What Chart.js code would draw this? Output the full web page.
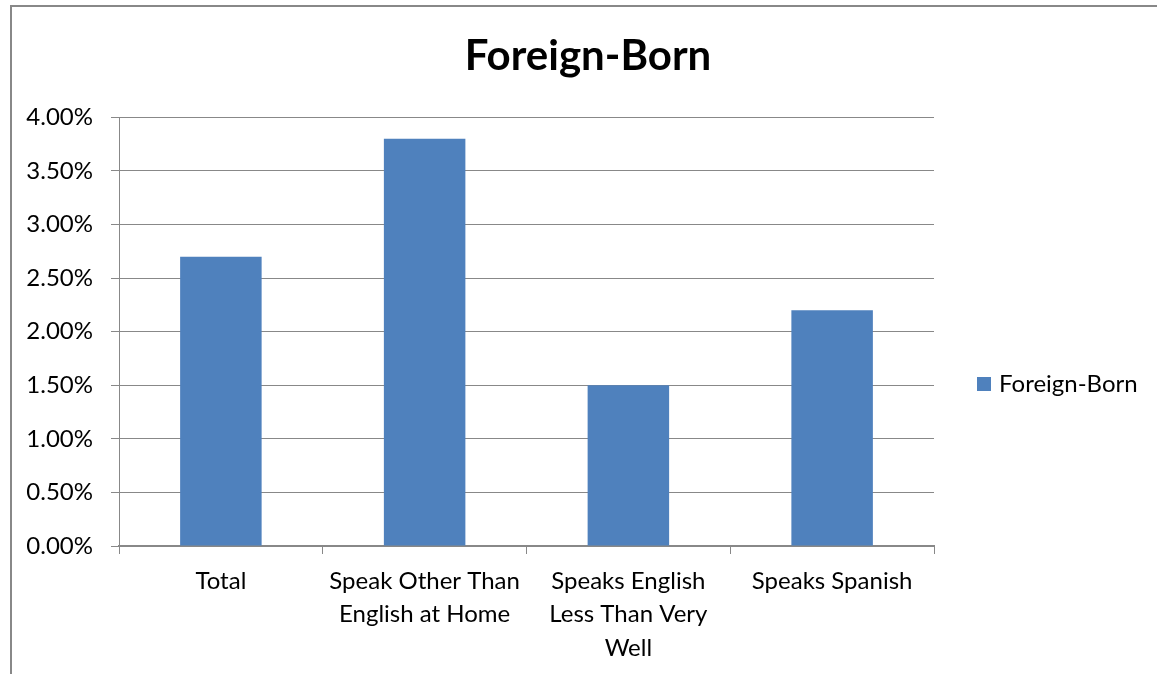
<!DOCTYPE html>
<html>
<head>
<meta charset="utf-8">
<script src="https://cdn.jsdelivr.net/npm/chart.js@4"></script>
<style>
html,body{margin:0;padding:0;background:#fff;}
#wrap{width:1157px;height:674px;position:relative;}
</style>
</head>
<body>
<div id="wrap"><canvas id="c" width="1157" height="674"></canvas></div>
<script>
const categories = [
  ["Total"],
  ["Speak Other Than", "English at Home"],
  ["Speaks English", "Less Than Very", "Well"],
  ["Speaks Spanish"]
];
const seriesName = "Foreign-Born";
const seriesValues = [0.027, 0.038, 0.015, 0.022];
const yTickValues = [0, 0.005, 0.01, 0.015, 0.02, 0.025, 0.03, 0.035, 0.04];

const FONT = "Lato";
const barColor = "#4F81BD";
const gray = "#888888";

const framePlugin = {
  id: "frame",
  beforeDraw(chart) {
    const ctx = chart.ctx;
    ctx.save();
    ctx.fillStyle = "#fff";
    ctx.fillRect(0, 0, chart.width, chart.height);
    ctx.strokeStyle = gray;
    ctx.lineWidth = 2;
    ctx.beginPath();
    ctx.moveTo(11, 674);
    ctx.lineTo(11, 6);
    ctx.lineTo(1157, 6);
    ctx.stroke();
    ctx.restore();
  }
};

const legendPlugin = {
  id: "customLegend",
  afterDraw(chart) {
    const ctx = chart.ctx;
    const area = chart.chartArea;
    ctx.save();
    ctx.fillStyle = barColor;
    const x0 = area.right + 43;
    const yc = 384;
    ctx.fillRect(x0, yc - 7, 14, 14);
    ctx.fillStyle = "#000";
    ctx.font = "24px " + FONT;
    ctx.textBaseline = "middle";
    ctx.textAlign = "left";
    ctx.fillText(seriesName, x0 + 22, yc);
    ctx.restore();
  }
};

new Chart(document.getElementById("c"), {
  type: "bar",
  data: {
    labels: categories,
    datasets: [{
      label: seriesName,
      data: seriesValues,
      backgroundColor: barColor,
      borderWidth: 0,
      categoryPercentage: 1.0,
      barPercentage: 0.4,
      yAxisID: "y"
    }]
  },
  options: {
    responsive: false,
    animation: false,
    devicePixelRatio: 1,
    layout: { padding: { left: 19, right: 0, top: 0, bottom: 0 } },
    plugins: {
      legend: { display: false },
      tooltip: { enabled: false },
      title: {
        display: true,
        text: "Foreign-Born",
        color: "#000",
        font: { family: FONT, size: 42, weight: "bold", lineHeight: 1.2 },
        padding: { top: 31, bottom: 36 }
      }
    },
    scales: {
      x: {
        afterFit(s) { s.height = 128; },
        grid: {
          offset: true,
          drawOnChartArea: false,
          drawTicks: true,
          tickLength: 8,
          color: gray,
          lineWidth: 1
        },
        border: { display: true, color: gray, width: 2 },
        ticks: {
          color: "#000",
          font: { family: FONT, size: 24, lineHeight: 1.4 },
          padding: 10,
          maxRotation: 0,
          autoSkip: false
        }
      },
      y: {
        min: 0,
        max: 0.04,
        afterFit(s) { s.width = 100; },
        afterBuildTicks(s) { s.ticks = yTickValues.map(v => ({ value: v })); },
        grid: {
          drawOnChartArea: true,
          drawTicks: true,
          tickLength: 8,
          color: gray,
          lineWidth: 1
        },
        border: { display: true, color: gray, width: 1 },
        ticks: {
          color: "#000",
          font: { family: FONT, size: 24 },
          padding: 18,
          callback: (v) => (v * 100).toFixed(2) + "%"
        }
      },
      legendSpace: {
        type: "linear",
        position: "right",
        display: true,
        afterFit(s) { s.width = 223; },
        grid: { display: false, drawTicks: false },
        border: { display: false },
        ticks: { display: false }
      }
    }
  },
  plugins: [framePlugin, legendPlugin]
});
</script>
</body>
</html>
